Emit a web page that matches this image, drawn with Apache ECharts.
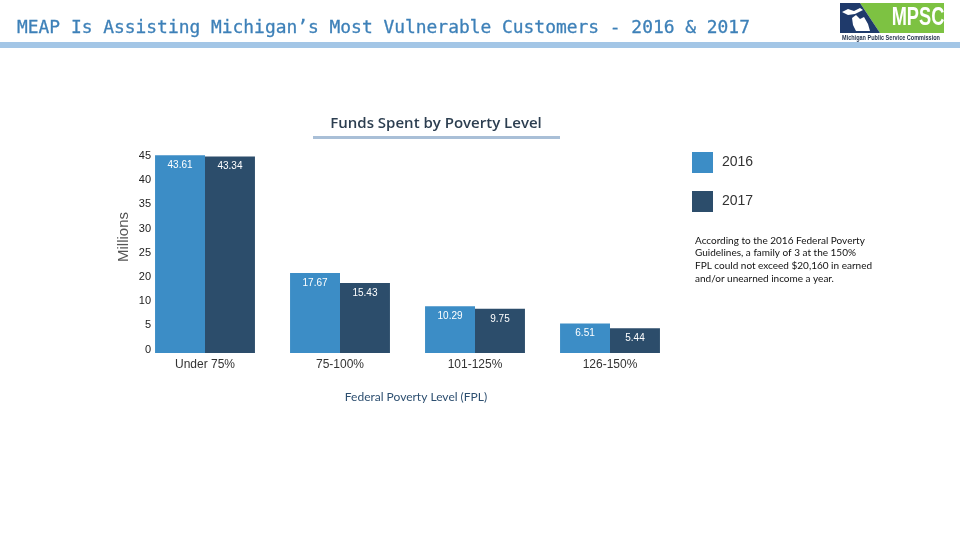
<!DOCTYPE html>
<html><head><meta charset="utf-8">
<script src="https://cdn.jsdelivr.net/npm/echarts@6/dist/echarts.min.js"></script>
<style>html,body{margin:0;padding:0;background:#fff;}#c{width:960px;height:540px;}</style>
</head><body><div id="c"></div>
<script>
const categories = ['Under 75%', '75-100%', '101-125%', '126-150%'];
const values2016 = [43.61, 17.67, 10.29, 6.51];
const values2017 = [43.34, 15.43, 9.75, 5.44];
const yTickLabels = ['0', '5', '10', '20', '25', '30', '35', '40', '45'];
const seriesNames = ['2016', '2017'];
const note = 'According to the 2016 Federal Poverty\nGuidelines, a family of 3 at the 150%\nFPL could not exceed $20,160 in earned\nand/or unearned income a year.';

const chart = echarts.init(document.getElementById('c'));
const C1 = '#3c8dc6', C2 = '#2c4d6b';
const lbl = { show: true, position: 'insideTop', distance: 5, color: '#fff', fontSize: 10, fontFamily: 'Liberation Sans' };
chart.setOption({
  backgroundColor: '#fff',
  animation: false,
  grid: [
    { left: 137.5, right: 282.5, top: 149, bottom: 187 },
    { left: 155, right: 282.5, top: 156, bottom: 190.5 }
  ],
  legend: {
    data: seriesNames, orient: 'vertical', left: 687, top: 147,
    itemWidth: 21, itemHeight: 21, itemGap: 18, icon: 'rect',
    textStyle: { fontSize: 14, color: '#333', fontFamily: 'Liberation Sans', padding: [0, 0, 0, 4] }
  },
  xAxis: [
    { type: 'category', data: categories, gridIndex: 0,
      axisLine: { show: false }, axisTick: { show: false },
      axisLabel: { color: '#333', fontSize: 12, fontFamily: 'Liberation Sans', margin: 6 } },
    { type: 'value', gridIndex: 1, show: false }
  ],
  yAxis: [
    { type: 'value', gridIndex: 0, min: 0, max: 45, show: false },
    { type: 'category', gridIndex: 1, data: yTickLabels, boundaryGap: false,
      axisLine: { show: false }, axisTick: { show: false }, splitLine: { show: false },
      axisLabel: { color: '#222', fontSize: 11, fontFamily: 'Liberation Sans', margin: 4 } }
  ],
  series: [
    { name: seriesNames[0], type: 'bar', data: values2016, xAxisIndex: 0, yAxisIndex: 0,
      itemStyle: { color: C1 }, barGap: '0%', barCategoryGap: '26%', label: lbl },
    { name: seriesNames[1], type: 'bar', data: values2017, xAxisIndex: 0, yAxisIndex: 0,
      itemStyle: { color: C2 }, barGap: '0%', barCategoryGap: '26%', label: lbl }
  ],
  graphic: [
    { type: 'text', x: 17, y: 28, scaleX: 1.023, style: { text: 'MEAP Is Assisting Michigan’s Most Vulnerable Customers - 2016 & 2017',
      fill: '#3d80b8', font: '17.5px "DejaVu Sans Mono"', textVerticalAlign: 'middle', stroke: '#3d80b8', lineWidth: 0.3 } },
    { type: 'rect', shape: { x: 0, y: 42, width: 960, height: 6 }, style: { fill: '#a3c6e6' } },
    { type: 'polygon', shape: { points: [[860, 3], [944, 3], [944, 33], [880, 33]] }, style: { fill: '#7dc242' } },
    { type: 'polygon', shape: { points: [[840, 3], [860, 3], [880, 33], [840, 33]] }, style: { fill: '#1f3a6b' } },
    { type: 'polygon', shape: { points: [[842, 12], [848, 9], [854, 11], [860, 8], [863, 10], [855, 14], [848, 15]] }, style: { fill: '#fff' } },
    { type: 'polygon', shape: { points: [[852, 18], [856, 15], [860, 19], [864, 17], [868, 24], [870, 31], [856, 31], [853, 25]] }, style: { fill: '#fff' } },
    { type: 'text', x: 918, y: 18, scaleX: 0.7, originX: 0, style: { text: 'MPSC', fill: '#fff', font: 'bold 26px "Liberation Sans"', textAlign: 'center', textVerticalAlign: 'middle' } },
    { type: 'text', x: 891, y: 38, scaleX: 0.85, style: { text: 'Michigan Public Service Commission', fill: '#1f2f4a', font: 'bold 6.5px "Liberation Sans"', textAlign: 'center', textVerticalAlign: 'middle' } },
    { type: 'text', x: 436, y: 124, style: { text: 'Funds Spent by Poverty Level', fill: '#2c3e50',
      font: '600 15px "Open Sans"', textAlign: 'center', textVerticalAlign: 'middle' } },
    { type: 'rect', shape: { x: 313, y: 136, width: 247, height: 3 }, style: { fill: '#a9bfd7' } },
    { type: 'text', style: { text: 'Millions', fill: '#555', font: '15px "Liberation Sans"', textAlign: 'center', textVerticalAlign: 'middle' },
      x: 124, y: 237, rotation: Math.PI / 2 },
    { type: 'text', style: { text: 'Federal Poverty Level (FPL)', fill: '#2d4f70', font: '12px Lato', textAlign: 'center', textVerticalAlign: 'middle' },
      x: 416, y: 397 },
    { type: 'text', left: 695, top: 234, style: { text: note, fill: '#111', font: '10px Lato', lineHeight: 12.8 } }
  ]
});
</script></body></html>
